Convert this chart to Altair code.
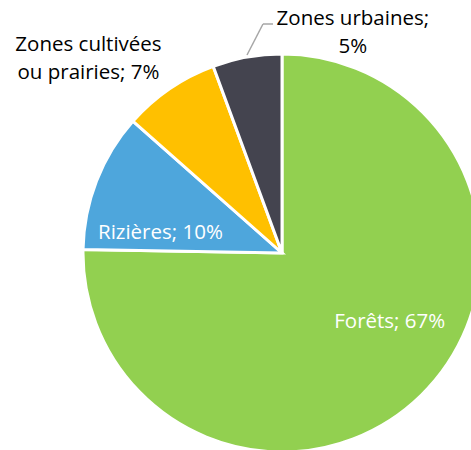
import altair as alt
import pandas as pd
import math

categories = ["Forêts", "Rizières", "Zones cultivées ou prairies", "Zones urbaines"]
values = [67, 10, 7, 5]
labels = [["Forêts; 67%"], ["Rizières; 10%"], ["Zones cultivées", "ou prairies; 7%"], ["Zones urbaines;", "5%"]]
colors = ["#92D050", "#4EA6DC", "#FFC000", "#44444F"]

df = pd.DataFrame({
    "category": categories,
    "value": values,
    "idx": list(range(len(categories))),
    "label": labels,
})

CX, CY, R = 282, 253, 199
FONT = "Open Sans"
FS = 20.5

base = alt.Chart(df)

arc = base.mark_arc(radius=R, stroke="white", strokeWidth=3).encode(
    theta=alt.Theta("value:Q", stack=True),
    color=alt.Color("category:N", scale=alt.Scale(domain=categories, range=colors), legend=None),
    order=alt.Order("idx:Q"),
    x=alt.value(CX),
    y=alt.value(CY),
)

lab_base = base.transform_window(
    cum="sum(value)", sort=[{"field": "idx"}]
).transform_joinaggregate(
    total="sum(value)"
).transform_calculate(
    mid="(datum.cum - datum.value / 2) / datum.total"
)

def label_layer(cat, r, dx, dy, color):
    return lab_base.transform_filter(alt.datum.category == cat).mark_text(
        radius=r, dx=dx, dy=dy, font=FONT, fontSize=FS, color=color,
        align="center", baseline="alphabetic", lineHeight=28,
    ).encode(
        theta=alt.Theta("mid:Q", scale=alt.Scale(domain=[0, 1], range=[0, 2 * math.pi])),
        text="label",
        x=alt.value(CX),
        y=alt.value(CY),
    )

t1 = label_layer("Forêts", 128, 18, -16, "white")
t2 = label_layer("Rizières", 124, -6, 31, "white")
t3 = label_layer("Zones cultivées ou prairies", 240, -58, -4, "black")
t4 = label_layer("Zones urbaines", 240, 113, 8, "black")

leader1 = base.transform_filter(alt.datum.idx == 3).mark_rule(color="#A6A6A6", strokeWidth=1.5).encode(
    x=alt.value(247), y=alt.value(55), x2=alt.value(263), y2=alt.value(24)
)
leader2 = base.transform_filter(alt.datum.idx == 3).mark_rule(color="#A6A6A6", strokeWidth=1.5).encode(
    x=alt.value(263), y=alt.value(24), x2=alt.value(273), y2=alt.value(24)
)

chart = alt.layer(arc, leader1, leader2, t1, t2, t3, t4).resolve_scale(
    theta="independent"
).properties(
    width=471, height=450, padding=0, autosize=alt.AutoSizeParams(type="none"),
    background="white",
).configure_view(stroke=None)

chart.save("out.html", embed_options={"renderer": "svg", "actions": False})
